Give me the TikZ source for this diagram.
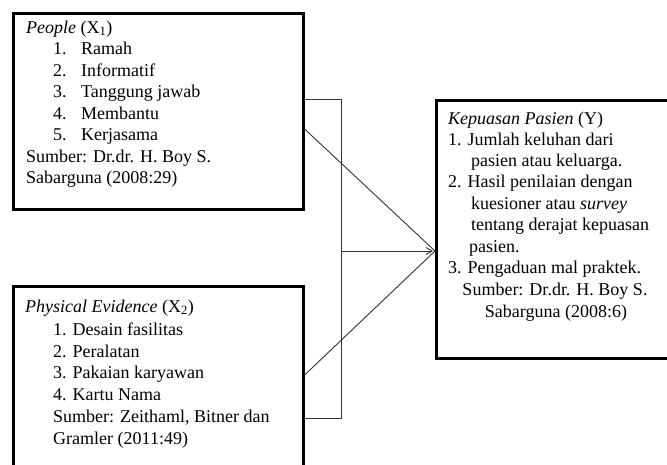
\documentclass[tikz,border=0pt]{standalone}
\usepackage{fontspec}
\setmainfont{Liberation Serif}
\usetikzlibrary{arrows.meta}
\begin{document}
\begin{tikzpicture}[x=1pt,y=-1pt,
  box/.style={draw=black, line width=2.6pt, fill=none, inner sep=0pt, anchor=north west},
  conn/.style={draw=black!80, line width=0.9pt},
  txt/.style={anchor=base west, inner sep=0pt, font=\fontsize{18}{21}\selectfont},
  ctxt/.style={anchor=base, inner sep=0pt, font=\fontsize{18}{21}\selectfont}]
\useasboundingbox (0,0) rectangle (667,464);
\begin{scope}
\clip (0,0) rectangle (667,464);
% boxes
\node[box, minimum width=290pt, minimum height=196pt] (people) at (12,12) {};
\node[box, minimum width=290pt, minimum height=200pt] (evidence) at (12,285) {};
\node[box, minimum width=245pt, minimum height=258pt] (kepuasan) at (435,99) {};
\end{scope}
% box 1 text
\node[txt] (p0) at (26,33) {\textit{People} (X\textsubscript{1})};
\node[txt] (p1) at (53,54) {\makebox[28pt][l]{1.}Ramah};
\node[txt] (p2) at (53,76) {\makebox[28pt][l]{2.}Informatif};
\node[txt] (p3) at (53,97) {\makebox[28pt][l]{3.}Tanggung jawab};
\node[txt] (p4) at (53,119) {\makebox[28pt][l]{4.}Membantu};
\node[txt] (p5) at (53,140) {\makebox[28pt][l]{5.}Kerjasama};
\node[txt] (p6) at (26,162) {Sumber: Dr.dr. H. Boy S.};
\node[txt] (p7) at (26,183) {Sabarguna (2008:29)};
% box 2 text
\node[txt] (e0) at (25,312) {\textit{Physical Evidence} (X\textsubscript{2})};
\node[txt] (e1) at (53,335) {1. Desain fasilitas};
\node[txt] (e2) at (53,357) {2. Peralatan};
\node[txt] (e3) at (53,378) {3. Pakaian karyawan};
\node[txt] (e4) at (53,400) {4. Kartu Nama};
\node[txt] (e5) at (53,422) {Sumber: Zeithaml, Bitner dan};
\node[txt] (e6) at (53,444) {Gramler (2011:49)};
% box 3 text
\node[txt] (k0) at (448,124) {\textit{Kepuasan Pasien} (Y)};
\node[txt] (k1) at (448,145) {1. Jumlah keluhan dari};
\node[txt] (k2) at (471,166) {pasien atau keluarga.};
\node[txt] (k3) at (448,187) {2. Hasil penilaian dengan};
\node[txt] (k4) at (471,209) {kuesioner atau \textit{survey}};
\node[txt] (k5) at (471,230) {tentang derajat kepuasan};
\node[txt] (k6) at (469,252) {pasien.};
\node[txt] (k7) at (448,273) {3. Pengaduan mal praktek.};
\node[ctxt] (k8) at (555,295) {Sumber: Dr.dr. H. Boy S.};
\node[ctxt] (k9) at (556,317) {Sabarguna (2008:6)};
% connectors
\coordinate (jtop) at (341,99);
\coordinate (jbot) at (341,418);
\coordinate (jmid) at (341,251);
\coordinate (d1) at (0,129);
\coordinate (d2) at (0,375);
\coordinate (tip) at (kepuasan.west |- jmid);
\draw[conn] (people.east |- jtop) -- (jtop) -- (jbot) -- (evidence.east |- jbot);
\draw[conn, -{Straight Barb[length=6pt,width=7pt]}] (jmid) -- ([xshift=-2pt]tip);
\draw[conn] (people.east |- d1) -- (tip);
\draw[conn] (evidence.east |- d2) -- (tip);
\end{tikzpicture}
\end{document}
